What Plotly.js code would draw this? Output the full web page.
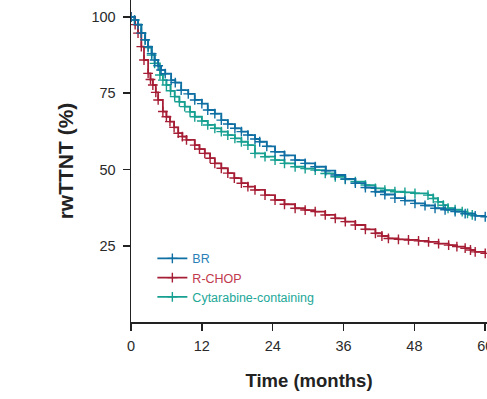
<!DOCTYPE html>
<html>
<head>
<meta charset="utf-8">
<script src="https://cdn.plot.ly/plotly-3.0.1.min.js"></script>
<style>html,body{margin:0;padding:0;background:#fff;}#chart{width:487px;height:399px;overflow:hidden;}</style>
</head>
<body>
<div id="chart"></div>
<script>
// Series names
const seriesNames = ["BR", "R-CHOP", "Cytarabine-containing"];

// BR (months, rwTTNT %)
const brTime = [0, 0.6, 1.2, 1.75, 2.4, 2.9, 3.5, 4, 4.6, 5.1, 5.8, 6.8, 7.5, 8.5, 9.7, 10.8, 12, 13, 14.2, 15.3, 16.4, 17.6, 18.7, 19.8, 21, 21.8, 23, 24.4, 26, 27.8, 29.5, 31.2, 33, 34.6, 36.3, 38, 39.7, 41.4, 43, 44.7, 46.4, 48.1, 49.8, 51.5, 53.2, 54.9, 56.6, 58.3, 60];
const brSurv = [100, 99, 97.5, 94.7, 92.5, 90.3, 88, 85.9, 84, 82.6, 81.4, 79.3, 78.5, 76, 74.8, 72.8, 71.6, 69.5, 68.3, 66.2, 64.9, 63.5, 62.4, 61.3, 60, 59.1, 57.6, 55.8, 54.6, 53.1, 52, 50.9, 49.6, 48.2, 46.9, 45.5, 44.1, 42.7, 41.8, 40.6, 39.8, 38.9, 38.2, 37.3, 36.8, 36.2, 35.5, 34.8, 34.5];

// R-CHOP
const rchopTime = [0, 0.7, 1.19, 1.75, 2.2, 2.9, 3.3, 3.7, 4.2, 4.6, 5.4, 6, 6.6, 7.3, 8, 8.7, 9.4, 10.8, 11.6, 12.5, 13.4, 14.2, 15.3, 16.4, 17.5, 18.7, 19.8, 21, 22.7, 24.4, 26, 27.8, 29.5, 31.2, 32.9, 34.6, 36.3, 38, 39.7, 41.4, 42.5, 43.6, 45.3, 47, 48.7, 50.4, 52.1, 53.8, 55.2, 56.6, 57.5, 58.3, 60];
const rchopSurv = [100, 97.5, 94.7, 90.3, 85.9, 81.5, 79.5, 77.7, 75.3, 72.8, 69, 67.3, 65.7, 63.8, 61.9, 60.8, 59.7, 58, 56.7, 55.3, 53.7, 52, 50.4, 48.8, 47.2, 45.5, 44.4, 43.3, 41.6, 40, 38.6, 37.3, 36.7, 36.2, 35.1, 34, 32.9, 31.8, 30.4, 29.1, 28.2, 27.4, 27.1, 26.9, 26.6, 26.3, 25.7, 25.2, 24.7, 24.2, 23.6, 23, 22.5];

// Cytarabine-containing
const cytaTime = [0, 0.6, 1.2, 1.75, 2.4, 2.9, 3.5, 4, 4.9, 5.4, 6, 6.7, 7.4, 8.2, 9.1, 10, 10.8, 12, 13, 14.2, 15.3, 16.4, 17.6, 18.7, 19.8, 21, 22.7, 24.4, 26, 27.8, 29.5, 31.2, 32.9, 34.6, 36.3, 38, 39.7, 41.4, 43, 44.7, 46.4, 48.1, 50.3, 51.2, 52, 52.9, 53.7, 54.9, 56.1, 57, 57.8];
const cytaSurv = [100, 99, 97.5, 94.7, 92.5, 90, 87.5, 84.8, 81, 79.3, 77.7, 75.8, 73.9, 72.2, 70.6, 68.9, 67.3, 65.9, 64.6, 63.5, 62.4, 61.3, 60.2, 59.1, 58, 55.3, 54.2, 53.1, 52, 50.9, 50.3, 49.8, 48.7, 47.6, 46.8, 46, 44.9, 43.8, 43.2, 42.7, 42.5, 42.2, 41.6, 40.5, 39.4, 38.3, 37.3, 36.8, 36.2, 35.6, 35.1];

// Tick labels
const xTicks = [0, 12, 24, 36, 48, 60];
const yTicks = [25, 50, 75, 100];

const lineColors = ["#0f6fa3", "#a61e35", "#17a091"];
const textColors = ["#2a7fb8", "#c0394c", "#22a898"];

function kmTrace(x, y, i) {
  return {
    x: x, y: y, type: "scatter", mode: "lines+markers",
    name: '<span style="color:' + textColors[i] + '">' + seriesNames[i] + '</span>',
    line: {shape: "hv", color: lineColors[i], width: 1.8},
    marker: {symbol: "cross-thin-open", size: 7, color: lineColors[i], line: {color: lineColors[i], width: 1.4}}
  };
}

const data = [
  kmTrace(cytaTime, cytaSurv, 2),
  kmTrace(rchopTime, rchopSurv, 1),
  kmTrace(brTime, brSurv, 0)
];

const tickFont = {family: "Liberation Sans, Arial, sans-serif", size: 14.5, color: "#2a2a2a"};

const layout = {
  width: 487, height: 399,
  margin: {l: 131, r: 0, t: 0, b: 77, pad: 0},
  paper_bgcolor: "#fff", plot_bgcolor: "#fff",
  showlegend: true,
  legend: {
    x: 0.06, y: 0.243, xanchor: "left", yanchor: "top",
    traceorder: "reversed",
    font: {family: "Liberation Sans, Arial, sans-serif", size: 12.5},
    itemwidth: 30, tracegroupgap: 0, bgcolor: "rgba(0,0,0,0)"
  },
  xaxis: {
    range: [0, 60.3], tickvals: xTicks, ticktext: xTicks.map(String),
    ticks: "outside", ticklen: 7, tickwidth: 1.5, tickcolor: "#222",
    showline: true, linecolor: "#222", linewidth: 1.5, showgrid: false, zeroline: false,
    tickfont: tickFont, ticklabelstandoff: 3, ticklabeloverflow: "allow", automargin: false,
    title: {text: "Time (months)", font: {family: "Liberation Sans, Arial, sans-serif", size: 18.5, color: "#222", weight: "bold"}, standoff: 21}
  },
  yaxis: {
    range: [0, 105.57], tickvals: yTicks, ticktext: yTicks.map(String),
    ticks: "outside", ticklen: 7, tickwidth: 1.5, tickcolor: "#222",
    showline: true, linecolor: "#222", linewidth: 1.5, showgrid: false, zeroline: false,
    tickfont: tickFont, ticklabelstandoff: 4, automargin: false,
    title: {text: "rwTTNT (%)", font: {family: "Liberation Sans, Arial, sans-serif", size: 21, color: "#222", weight: "bold"}, standoff: 12}
  }
};

Plotly.newPlot("chart", data, layout, {displayModeBar: false, staticPlot: true});
</script>
</body>
</html>
